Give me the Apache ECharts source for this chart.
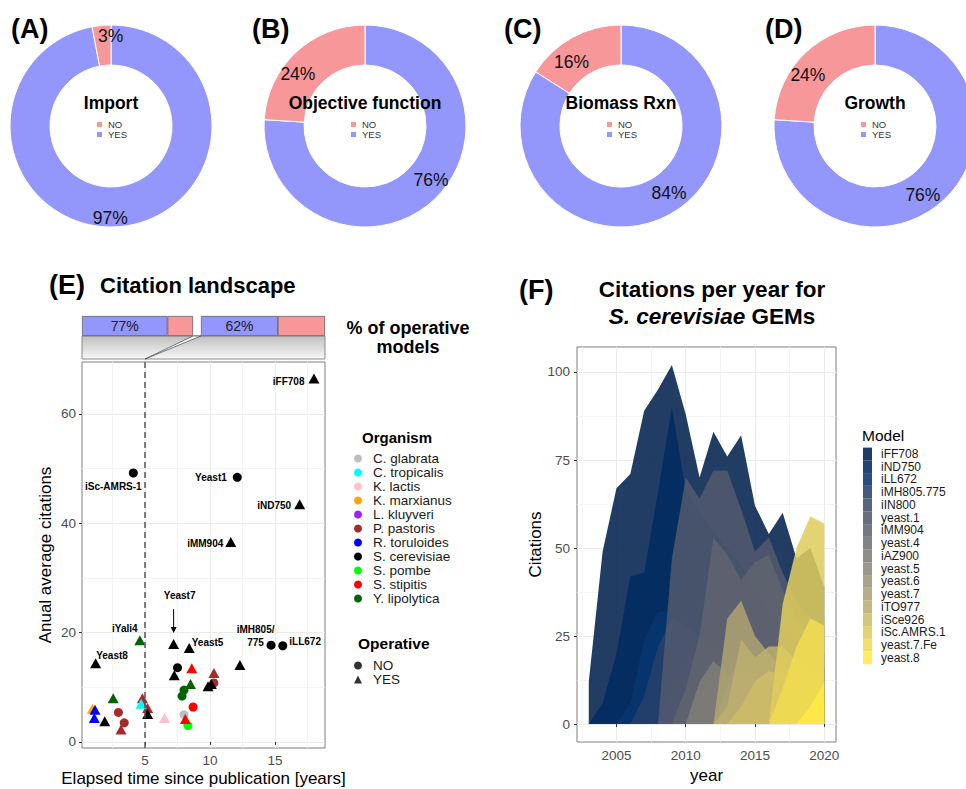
<!DOCTYPE html>
<html><head><meta charset="utf-8">
<script src="https://cdn.jsdelivr.net/npm/echarts@6/dist/echarts.min.js"></script>
<style>html,body{margin:0;padding:0;background:#fff}#c{width:966px;height:789px}</style>
</head><body><div id="c"></div>
<script>
// ================= DATA =================
// Panels A-D (donuts)
const panelLetters = ['(A)', '(B)', '(C)', '(D)'];
const pieTitles = ['Import', 'Objective function', 'Biomass Rxn', 'Growth'];
const pieYes = [97, 76, 84, 76];
const pieNo = [3, 24, 16, 24];

// Panel E top bars: % of operative models (before / after 5 years)
const barOperativePct = [77, 62];

// Panel E scatter
const orgNames = ['C. glabrata', 'C. tropicalis', 'K. lactis', 'K. marxianus', 'L. kluyveri', 'P. pastoris',
  'R. toruloides', 'S. cerevisiae', 'S. pombe', 'S. stipitis', 'Y. lipolytica'];
const elapsed = [18.0, 4.1, 12.1, 16.9, 11.6, 7.2, 4.6, 8.4, 14.7, 15.6, 1.2, 12.3, 7.5, 7.25, 8.6, 10.3, 10.3, 9.85, 10.1,
  8.5, 8.0, 7.85, 2.55, 4.8, 4.8, 5.2, 4.7, 5.2, 8.7, 8.0, 8.1, 8.3, 6.5, 0.95, 1.15, 1.1, 1.9, 2.95, 3.4, 3.15];
const avgCitations = [66.5, 49.2, 48.4, 43.5, 36.6, 17.9, 18.6, 17.2, 17.7, 17.6, 14.4, 14.1, 13.6, 12.2, 13.5, 12.6, 10.8, 10.2, 10.6,
  10.6, 9.5, 8.4, 8.0, 8.0, 7.1, 6.2, 7.0, 5.1, 6.4, 5.0, 4.2, 3.0, 4.4, 6.1, 5.9, 4.4, 3.8, 5.4, 3.5, 2.3];
const pointOrganism = ['S. cerevisiae', 'S. cerevisiae', 'S. cerevisiae', 'S. cerevisiae', 'S. cerevisiae', 'S. cerevisiae',
  'Y. lipolytica', 'S. cerevisiae', 'S. cerevisiae', 'S. cerevisiae', 'S. cerevisiae', 'S. cerevisiae', 'S. cerevisiae',
  'S. cerevisiae', 'S. stipitis', 'P. pastoris', 'P. pastoris', 'S. cerevisiae', 'S. cerevisiae', 'Y. lipolytica',
  'Y. lipolytica', 'Y. lipolytica', 'Y. lipolytica', 'P. pastoris', 'P. pastoris', 'P. pastoris', 'C. tropicalis',
  'S. cerevisiae', 'S. stipitis', 'C. glabrata', 'S. stipitis', 'S. pombe', 'K. lactis', 'K. marxianus', 'R. toruloides',
  'R. toruloides', 'S. cerevisiae', 'P. pastoris', 'P. pastoris', 'P. pastoris'];
const pointOperative = ['YES', 'NO', 'NO', 'YES', 'YES', 'YES', 'YES', 'YES', 'NO', 'NO', 'YES', 'YES', 'NO', 'YES', 'YES',
  'YES', 'NO', 'YES', 'YES', 'YES', 'NO', 'NO', 'YES', 'YES', 'YES', 'YES', 'YES', 'YES', 'NO', 'NO', 'YES', 'NO', 'YES',
  'YES', 'YES', 'YES', 'YES', 'NO', 'NO', 'YES'];
const pointLabel = ['iFF708', 'iSc-AMRS-1', 'Yeast1', 'iND750', 'iMM904', 'Yeast7', 'iYali4', 'Yeast5', 'iMH805/775', 'iLL672',
  'Yeast8', '', '', '', '', '', '', '', '', '', '', '', '', '', '', '', '', '', '', '', '', '', '', '', '', '', '', '', '', ''];
const operativeLevels = ['NO', 'YES'];

// Panel F: citations per year
const years = [2003, 2004, 2005, 2006, 2007, 2008, 2009, 2010, 2011, 2012, 2013, 2014, 2015, 2016, 2017, 2018, 2019, 2020];
const models = ['iFF708', 'iND750', 'iLL672', 'iMH805.775', 'iIN800', 'yeast.1', 'iMM904', 'yeast.4', 'iAZ900', 'yeast.5',
  'yeast.6', 'yeast.7', 'iTO977', 'iSce926', 'iSc.AMRS.1', 'yeast.7.Fe', 'yeast.8'];
const _ = null;
const citIFF708    = [12, 49, 67, 71, 89, 95, 102, 88, 70, 83, 76, 82, 62, 54, 60, 47, 50, 39];
const citIND750    = [0, 6, 20, 42, 43, 66, 90, 66, 60, 55, 50, 45, 38, 32, 28, 24, 20, 16];
const citILL672    = [_, _, 0, 6, 24, 32, 32, 28, 25, 22, 20, 18, 16, 14, 13, 12, 10, 8];
const citIMH805    = [_, _, _, 0, 8, 22, 30, 28, 25, 22, 20, 18, 17, 16, 15, 14, 12, 10];
const citIIN800    = [_, _, _, _, _, 0, 10, 18, 22, 20, 18, 17, 15, 14, 13, 10, 9, 7];
const citYeast1    = [_, _, _, _, _, 0, 47, 70, 64, 72, 72, 61, 49, 53, 43, 35, 30, 28];
const citIMM904    = [_, _, _, _, _, _, 0, 10, 25, 53, 48, 41, 46, 48, 38, 30, 25, 20];
const citYeast4    = [_, _, _, _, _, _, _, 0, 8, 14, 15, 13, 12, 10, 9, 8, 7, 6];
const citIAZ900    = [_, _, _, _, _, _, _, 0, 12, 18, 14, 12, 11, 10, 8, 7, 6, 5];
const citYeast5    = [_, _, _, _, _, _, _, _, _, 0, 12, 20, 18, 17, 16, 14, 12, 10];
const citYeast6    = [_, _, _, _, _, _, _, _, _, 0, 10, 16, 14, 12, 11, 10, 8, 7];
const citYeast7    = [_, _, _, _, _, _, _, _, _, 0, 30, 35, 25, 20, 16, 13, 10, 8];
const citITO977    = [_, _, _, _, _, _, _, _, _, 0, 5, 24, 19, 22, 22, 18, 15, 12];
const citISce926   = [_, _, _, _, _, _, _, _, _, _, 0, 5, 12, 15, 14, 12, 10, 8];
const citIScAMRS1  = [_, _, _, _, _, _, _, _, _, _, _, _, _, 0, 34, 50, 59, 57];
const citYeast7Fe  = [_, _, _, _, _, _, _, _, _, _, _, _, _, 0, 10, 22, 30, 28];
const citYeast8    = [_, _, _, _, _, _, _, _, _, _, _, _, _, _, _, 0, 5, 12];
const modelCitations = [citIFF708, citIND750, citILL672, citIMH805, citIIN800, citYeast1, citIMM904, citYeast4, citIAZ900,
  citYeast5, citYeast6, citYeast7, citITO977, citISce926, citIScAMRS1, citYeast7Fe, citYeast8];

// tick values
const eXTicks = [5, 10, 15], eXMinor = [2.5, 7.5, 12.5, 17.5];
const eYTicks = [0, 20, 40, 60], eYMinor = [10, 30, 50];
const fXTicks = [2005, 2010, 2015, 2020], fXMinor = [2002.5, 2007.5, 2012.5, 2017.5];
const fYTicks = [0, 25, 50, 75, 100], fYMinor = [12.5, 37.5, 62.5, 87.5];

// ================= STYLE =================
const FONT = "'Liberation Sans', Arial, Helvetica, sans-serif";
const YES_C = '#9397FC', NO_C = '#F8979A';
const orgColors = {
  'C. glabrata': '#BEBEBE', 'C. tropicalis': '#00FFFF', 'K. lactis': '#FFC0CB', 'K. marxianus': '#FFA500',
  'L. kluyveri': '#A020F0', 'P. pastoris': '#A52A2A', 'R. toruloides': '#0000FF', 'S. cerevisiae': '#000000',
  'S. pombe': '#00FF00', 'S. stipitis': '#FF0000', 'Y. lipolytica': '#006400'
};
const modelColors = ['#00204D', '#002B60', '#07366E', '#27416C', '#404D6B', '#51586D', '#60646F', '#6E7073', '#7D7C76',
  '#8C8879', '#9C9577', '#ACA273', '#BCAF6E', '#CEBD67', '#E0CC5D', '#F0DB52', '#FFEA46'];
const pieCenters = [[111, 126], [365, 126], [621, 126], [875, 126]];
// per-label nudges of the donut percentage texts [YES, NO] (pixels)
const pieLabelShift = [[[-4.3, 4.2], [3.8, -3.2]], [[4.3, -3.5], [-4.8, 4.5]], [[3.8, -3.5], [-4.5, 5]], [[-4.8, 4], [-4.8, 5]]];
const letterX = [11, 252, 504, 765];
const gE = { left: 82, top: 362, width: 243, height: 386 };
const gB1 = { left: 82, top: 316, width: 111, height: 20 };
const gB2 = { left: 201, top: 316, width: 124, height: 20 };
const gF = { left: 577, top: 347, width: 259, height: 395 };
const labelPlace = {
  'iFF708': { position: 'left', distance: 4, offset: [0, 3] },
  'iSc-AMRS-1': { position: 'bottom', distance: 3, offset: [-20, 0] },
  'Yeast1': { position: 'left', distance: 6, offset: [0, 0] },
  'iND750': { position: 'left', distance: 3, offset: [0, 1] },
  'iMM904': { position: 'left', distance: 2, offset: [0, 2] },
  'Yeast7': { position: 'top', distance: 37, offset: [6, 0] },
  'iYali4': { position: 'top', distance: 0, offset: [-15, 0] },
  'Yeast5': { position: 'right', distance: -3, offset: [0, -5] },
  'iMH805/775': { position: 'left', distance: 11, offset: [0, -9], align: 'center' },
  'iLL672': { position: 'right', distance: 2, offset: [0, -4] },
  'Yeast8': { position: 'right', distance: -5, offset: [0, -8] }
};

// ================= BUILD =================
const chart = echarts.init(document.getElementById('c'), null, { renderer: 'svg' });
const series = [];
const legends = [];

// Pies
pieTitles.forEach((t, i) => {
  series.push({
    type: 'pie', name: 'pie' + i, center: pieCenters[i], radius: [61, 101], startAngle: 90, clockwise: true,
    silent: true, avoidLabelOverlap: false, z: 1,
    itemStyle: { borderColor: '#fff', borderWidth: 1 },
    label: { show: true, position: 'inside', formatter: '{c}%', fontSize: 17.5, color: '#111', fontFamily: FONT },
    labelLayout: p => ({ dx: pieLabelShift[i][p.dataIndex][0], dy: pieLabelShift[i][p.dataIndex][1] }),
    labelLine: { show: false }, emphasis: { disabled: true },
    data: [{ name: 'YES', value: pieYes[i], itemStyle: { color: YES_C } },
           { name: 'NO', value: pieNo[i], itemStyle: { color: NO_C } }]
  });
  legends.push({
    data: ['NO', 'YES'], orient: 'vertical', left: pieCenters[i][0] - 16, top: 119.5, icon: 'rect',
    itemWidth: 7, itemHeight: 7, itemGap: 0, selectedMode: false, padding: 0,
    textStyle: { fontSize: 9.5, lineHeight: 9.5, color: '#333', fontFamily: FONT }
  });
});

// Scatter E
orgNames.forEach((org, k) => {
  const data = [];
  elapsed.forEach((x, j) => {
    if (pointOrganism[j] !== org) return;
    const yes = pointOperative[j] === 'YES';
    const item = { value: [x, avgCitations[j]], symbol: yes ? 'triangle' : 'circle', symbolSize: yes ? [11, 10] : 9 };
    const lab = pointLabel[j];
    if (lab) {
      const p = labelPlace[lab];
      item.label = {
        show: true, formatter: lab.replace('/', '/\n'), position: p.position, distance: p.distance, offset: p.offset,
        align: p.align, fontSize: 10, fontWeight: 'bold', color: '#000', fontFamily: FONT, lineHeight: 13
      };
    }
    data.push(item);
  });
  const s = {
    type: 'scatter', name: org, xAxisIndex: 0, yAxisIndex: 0, data: data, silent: true,
    itemStyle: { color: orgColors[org], opacity: 1 }, z: org === 'C. tropicalis' || org === 'R. toruloides' ? 4 : 3
  };
  if (k === 0) {
    s.markLine = {
      silent: true, symbol: ['none', 'none'], label: { show: false }, animation: false,
      lineStyle: { type: [6, 4], color: '#555', width: 1.5 }, data: [{ xAxis: 5 }]
    };
  }
  series.push(s);
});
// Operative shape legend entries
operativeLevels.forEach(lv => {
  series.push({ type: 'scatter', name: lv + ' ', xAxisIndex: 0, yAxisIndex: 0, data: [],
    symbol: lv === 'YES' ? 'triangle' : 'circle', itemStyle: { color: '#000' } });
});

legends.push({
  data: orgNames, orient: 'vertical', left: 354, top: 451.5, icon: 'circle', itemWidth: 8, itemHeight: 8, itemGap: 0,
  selectedMode: false, padding: 0, textStyle: { fontSize: 13.5, lineHeight: 13.3, color: '#1a1a1a', fontFamily: FONT, padding: [0, 0, 0, 6] }
});
legends.push({
  data: [{ name: 'NO ', icon: 'circle' }, { name: 'YES ', icon: 'triangle' }], orient: 'vertical', left: 354, top: 658.5,
  itemWidth: 8, itemHeight: 8, itemGap: 0, selectedMode: false, padding: 0,
  textStyle: { fontSize: 13.5, lineHeight: 13.3, color: '#1a1a1a', fontFamily: FONT, padding: [0, 0, 0, 6] }
});

// Bars
barOperativePct.forEach((v, i) => {
  series.push({ type: 'bar', xAxisIndex: 2 + i, yAxisIndex: 2 + i, stack: 'b' + i, data: [v], barWidth: '100%', silent: true,
    itemStyle: { color: YES_C, borderColor: '#555', borderWidth: 0.7 },
    label: { show: true, position: 'inside', formatter: '{c}%', fontSize: 14, color: '#222', fontFamily: FONT } });
  series.push({ type: 'bar', xAxisIndex: 2 + i, yAxisIndex: 2 + i, stack: 'b' + i, data: [100 - v], barWidth: '100%', silent: true,
    itemStyle: { color: NO_C, borderColor: '#555', borderWidth: 0.7 } });
});

// Areas F
models.forEach((m, i) => {
  const d = [];
  years.forEach((y, j) => { if (modelCitations[i][j] !== null) d.push([y, modelCitations[i][j]]); });
  series.push({ type: 'line', name: m, xAxisIndex: 4, yAxisIndex: 4, data: d, symbol: 'none', silent: true,
    lineStyle: { width: 0, color: modelColors[i] }, itemStyle: { color: modelColors[i] },
    areaStyle: { color: modelColors[i], opacity: 0.87 } });
});
legends.push({
  data: models, orient: 'vertical', left: 863, top: 447.6, icon: 'rect', itemWidth: 9, itemHeight: 12.75, itemGap: 0,
  selectedMode: false, padding: 0, itemStyle: { opacity: 0.87 },
  textStyle: { fontSize: 12, lineHeight: 12.75, color: '#1a1a1a', fontFamily: FONT, padding: [0, 0, 0, 4] }
});

const plainNum = v => String(v);
function mainAxis(grid, min, max, ticks, name, gap, labMargin) {
  return {
    type: 'value', gridIndex: grid, min: min, max: max, name: name, nameLocation: 'middle', nameGap: gap,
    nameTextStyle: { fontSize: 17, color: '#000', fontFamily: FONT },
    axisLine: { show: false },
    axisTick: { show: true, length: 3, customValues: ticks, lineStyle: { color: '#333' } },
    axisLabel: { customValues: ticks, formatter: plainNum, color: '#4D4D4D', fontSize: 13.5, margin: labMargin, fontFamily: FONT },
    splitLine: { show: true, lineStyle: { color: '#EBEBEB', width: 1 } }
  };
}
function minorAxis(grid, min, max, ticks) {
  return {
    type: 'value', gridIndex: grid, min: min, max: max,
    axisLine: { show: false }, axisLabel: { show: false, customValues: ticks },
    axisTick: { show: false, customValues: ticks },
    splitLine: { show: true, lineStyle: { color: '#F1F1F1', width: 0.8 } }
  };
}
const hiddenVal = g => ({ type: 'value', gridIndex: g, min: 0, max: 100, show: false });
const hiddenCat = g => ({ type: 'category', gridIndex: g, data: ['p'], show: false });

const option = {
  animation: false,
  textStyle: { fontFamily: FONT },
  grid: [
    Object.assign({ show: true, borderColor: '#7f7f7f', borderWidth: 1 }, gE),
    gB1, gB2,
    Object.assign({ show: true, borderColor: '#7f7f7f', borderWidth: 1 }, gF)
  ],
  xAxis: [
    mainAxis(0, 0.15, 18.85, eXTicks, 'Elapsed time since publication [years]', 22, 5),
    minorAxis(0, 0.15, 18.85, eXMinor),
    hiddenVal(1), hiddenVal(2),
    mainAxis(3, 2002.15, 2020.85, fXTicks, 'year', 22, 6),
    minorAxis(3, 2002.15, 2020.85, fXMinor)
  ],
  yAxis: [
    mainAxis(0, -1.1, 69.5, eYTicks, 'Anual average citations', 28, 6),
    minorAxis(0, -1.1, 69.5, eYMinor),
    hiddenCat(1), hiddenCat(2),
    mainAxis(3, -5.1, 107.1, fYTicks, 'Citations', 33, 7),
    minorAxis(3, -5.1, 107.1, fYMinor)
  ],
  legend: legends,
  series: series
};
chart.setOption(option);

// ---------- annotation graphics (positions derived from the axes) ----------
const txt = (text, x, y, size, weight, align, extra) => ({
  type: 'text', x: x, y: y, silent: true, z: 100,
  style: Object.assign({ text: text, fontSize: size, fontWeight: weight, fontFamily: FONT, fill: '#000',
    align: align, verticalAlign: 'middle' }, extra || {})
});
const graphics = [];
panelLetters.forEach((l, i) => graphics.push(txt(l, letterX[i], 29, 27, 'bold', 'left')));
pieTitles.forEach((t, i) => graphics.push(txt(t, pieCenters[i][0], 103, 17.5, 'bold', 'center')));
graphics.push(txt('(E)', 49, 285, 27, 'bold', 'left'));
graphics.push(txt('Citation landscape', 100, 285, 22, 'bold', 'left'));
graphics.push(txt('% of operative\nmodels', 408, 337, 18, 'bold', 'center', { lineHeight: 19 }));
graphics.push(txt('(F)', 519, 290, 27, 'bold', 'left'));
graphics.push(txt('Citations per year for', 712, 289, 22.5, 'bold', 'center'));
graphics.push(txt('{i|S. cerevisiae} GEMs', 712, 316, 22.5, 'bold', 'center',
  { rich: { i: { fontStyle: 'italic', fontWeight: 'bold', fontSize: 22.5, fontFamily: FONT } } }));
graphics.push(txt('Organism', 362, 437, 15, 'bold', 'left'));
graphics.push(txt('Operative', 358, 643, 15.5, 'bold', 'left'));
graphics.push(txt('Model', 862, 435, 15.5, 'normal', 'left'));

// zoom wedge under the bars
const barBottom = gB1.top + gB1.height;
const x5 = chart.convertToPixel({ xAxisIndex: 0 }, 5);
const bar1End = chart.convertToPixel({ xAxisIndex: 2 }, 100);
const bar2Start = chart.convertToPixel({ xAxisIndex: 3 }, 0);
const boxBottom = gE.top - 3;
graphics.push({
  type: 'rect', silent: true, z: 1,
  shape: { x: gE.left, y: barBottom, width: gE.width, height: boxBottom - barBottom },
  style: { fill: new echarts.graphic.LinearGradient(0, 0, 0, 1, [{ offset: 0, color: '#BFBFBF' }, { offset: 1, color: '#F8F8F8' }]),
    stroke: '#8a8a8a', lineWidth: 1 }
});
graphics.push({
  type: 'polygon', silent: true, z: 2,
  shape: { points: [[bar1End, barBottom], [bar2Start, barBottom], [x5, boxBottom]] },
  style: { fill: '#fff', stroke: '#444', lineWidth: 0.7 }
});
// arrow to Yeast7
const iY7 = pointLabel.indexOf('Yeast7');
const pY7 = chart.convertToPixel({ xAxisIndex: 0, yAxisIndex: 0 }, [elapsed[iY7], avgCitations[iY7]]);
graphics.push({ type: 'line', silent: true, z: 10,
  shape: { x1: pY7[0], y1: pY7[1] - 35, x2: pY7[0], y2: pY7[1] - 13 }, style: { stroke: '#000', lineWidth: 1 } });
graphics.push({ type: 'polygon', silent: true, z: 10,
  shape: { points: [[pY7[0] - 3, pY7[1] - 17], [pY7[0] + 3, pY7[1] - 17], [pY7[0], pY7[1] - 11]] }, style: { fill: '#000' } });

chart.setOption({ graphic: graphics });
</script></body></html>
